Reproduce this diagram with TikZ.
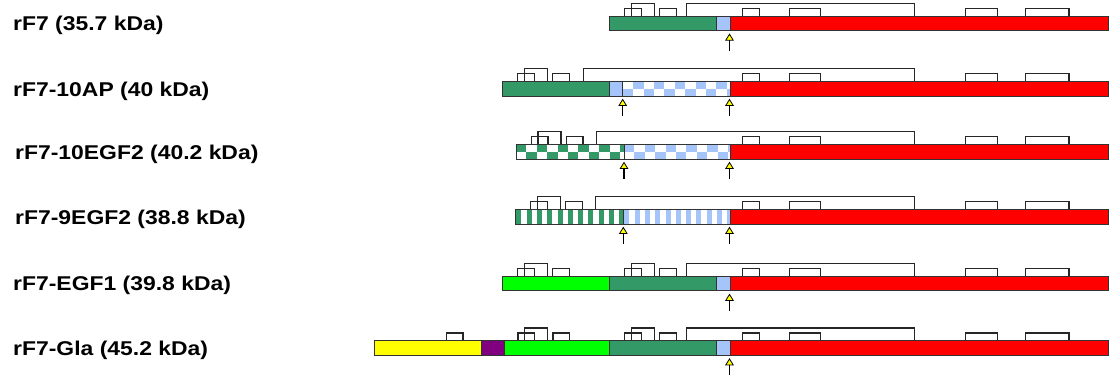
\documentclass[tikz,border=0pt]{standalone}
\usepackage{fontspec}
\setmainfont{Liberation Sans}
\definecolor{dgreen}{RGB}{51,153,102}
\definecolor{lblue}{RGB}{164,196,250}
\definecolor{mylime}{RGB}{0,255,0}
\definecolor{mypurple}{RGB}{128,0,128}
\definecolor{myred}{RGB}{255,0,0}
\definecolor{myyellow}{RGB}{255,255,0}
\newcommand\barh{14.7}
% EGF-like bracket set: domain start x, bar top T
\newcommand\egfbr[2]{%
  \draw[brk] ({#1+15.4},#2) |- ({#1+32},{#2-7.7}) -- ({#1+32},#2);
  \draw[brk] ({#1+22},#2) |- ({#1+45},{#2-12.7}) -- ({#1+45},#2);
  \draw[brk] ({#1+50.4},#2) |- ({#1+67},{#2-7.7}) -- ({#1+67},#2);
}
% long bracket start x, bar top T, plus red-domain brackets
\newcommand\redbr[2]{%
  \draw[brk] (#1,#2) |- (914.3,{#2-12.7}) -- (914.3,#2);
  \draw[brk] (742.7,#2) |- (759.3,{#2-7.7}) -- (759.3,#2);
  \draw[brk] (789.7,#2) |- (820.7,{#2-7.7}) -- (820.7,#2);
  \draw[brk] (965.7,#2) |- (997.7,{#2-7.7}) -- (997.7,#2);
  \draw[brk] (1025.7,#2) |- (1069,{#2-7.7}) -- (1069,#2);
}
% solid segment x1 x2 T colour
\newcommand\segm[4]{\draw[seg,fill=#4] (#1,#3) rectangle (#2,{#3+\barh});}
% checkered segment x1 x2 T colour phase
\newcommand\checkseg[5]{%
  \begin{scope}
    \clip (#1,#3) rectangle (#2,{#3+\barh});
    \fill[white] (#1,#3) rectangle (#2,{#3+\barh});
    \foreach \k in {0,...,11}{%
      \pgfmathtruncatemacro\kk{mod(\k+#5,2)}%
      \ifnum\kk=0
        \fill[#4] ({#1+\k*10.4},#3) rectangle ++(10.4,{\barh/2});
      \else
        \fill[#4] ({#1+\k*10.4},{#3+\barh/2}) rectangle ++(10.4,{\barh/2});
      \fi
    }
  \end{scope}
  \draw[seg] (#1,#3) rectangle (#2,{#3+\barh});
}
% striped segment x1 x2 T colour
\newcommand\stripeseg[4]{%
  \begin{scope}
    \clip (#1,#3) rectangle (#2,{#3+\barh});
    \fill[white] (#1,#3) rectangle (#2,{#3+\barh});
    \foreach \k in {0,...,11}{%
      \fill[#4] ({#1+1+\k*10.3},#3) rectangle ++(5,\barh);
    }
  \end{scope}
  \draw[seg] (#1,#3) rectangle (#2,{#3+\barh});
}
% cleavage arrow: x, bar bottom
\newcommand\cutarrow[2]{%
  \draw[line width=1.2bp] (#1,{#2+9}) -- (#1,{#2+20});
  \draw[fill=myyellow,draw=black,line width=0.8bp,line join=miter] (#1,{#2+3.5}) -- ({#1-3.7},{#2+9.5}) -- ({#1+3.7},{#2+9.5}) -- cycle;
}
\newcommand\lbl[4]{\node[lbltext] (#1) at (#2,#3) {\scalebox{1.15}[1]{#4}};}
\begin{document}
\begin{tikzpicture}[x=1bp,y=-1bp,
  seg/.style={draw=black!80,line width=0.9bp},
  brk/.style={draw=black!85,line width=1.2bp},
  lbltext/.style={anchor=base west,inner sep=0pt,font=\fontsize{20}{24}\selectfont\bfseries}]
\useasboundingbox (0,0) rectangle (1109,374);

% ---------- Row 1: rF7
\lbl{l1}{13}{30.7}{rF7 (35.7 kDa)}
\egfbr{609.3}{16}
\redbr{686.3}{16}
\segm{609.3}{716.7}{16}{dgreen}
\segm{716.7}{730}{16}{lblue}
\segm{730}{1108.5}{16}{myred}
\cutarrow{729.5}{30.7}

% ---------- Row 2: rF7-10AP
\lbl{l2}{13}{96}{rF7-10AP (40 kDa)}
\egfbr{502.3}{81.3}
\redbr{583.7}{81.3}
\segm{502.3}{609.7}{81.3}{dgreen}
\segm{609.7}{622.7}{81.3}{lblue}
\checkseg{622.7}{730}{81.3}{lblue}{1}
\segm{730}{1108.5}{81.3}{myred}
\cutarrow{622.7}{96}
\cutarrow{729.5}{96}

% ---------- Row 3: rF7-10EGF2
\lbl{l3}{15}{159}{rF7-10EGF2 (40.2 kDa)}
\egfbr{516}{144.3}
\redbr{596.7}{144.3}
\checkseg{516}{624}{144.3}{dgreen}{0}
\checkseg{624}{730.5}{144.3}{lblue}{0}
\segm{730.5}{1108.5}{144.3}{myred}
\cutarrow{624}{159}
\cutarrow{729.5}{159}

% ---------- Row 4: rF7-9EGF2
\lbl{l4}{15}{224}{rF7-9EGF2 (38.8 kDa)}
\egfbr{515.3}{209.3}
\redbr{595.7}{209.3}
\stripeseg{515.3}{623.3}{209.3}{dgreen}
\stripeseg{623.3}{730.5}{209.3}{lblue}
\segm{730.5}{1108.5}{209.3}{myred}
\cutarrow{623.3}{224}
\cutarrow{729.5}{224}

% ---------- Row 5: rF7-EGF1
\lbl{l5}{13}{290.7}{rF7-EGF1 (39.8 kDa)}
\egfbr{502.3}{276.2}
\egfbr{609.3}{276.2}
\redbr{686.3}{276.2}
\segm{502.3}{609.7}{276.2}{mylime}
\segm{609.7}{716.7}{276.2}{dgreen}
\segm{716.7}{730.5}{276.2}{lblue}
\segm{730.5}{1108.5}{276.2}{myred}
\cutarrow{729.5}{290.9}

% ---------- Row 6: rF7-Gla
\lbl{l6}{13}{355.3}{rF7-Gla (45.2 kDa)}
\draw[brk] (446.7,340.7) |- (463,333) -- (463,340.7);
\egfbr{502.6}{340.7}
\egfbr{609.3}{340.7}
\redbr{686.3}{340.7}
\segm{374}{481}{340.7}{myyellow}
\segm{481}{504.7}{340.7}{mypurple}
\segm{504.7}{609.3}{340.7}{mylime}
\segm{609.3}{716.7}{340.7}{dgreen}
\segm{716.7}{730.5}{340.7}{lblue}
\segm{730.5}{1108.5}{340.7}{myred}
\cutarrow{729.5}{355.4}
\end{tikzpicture}
\end{document}
